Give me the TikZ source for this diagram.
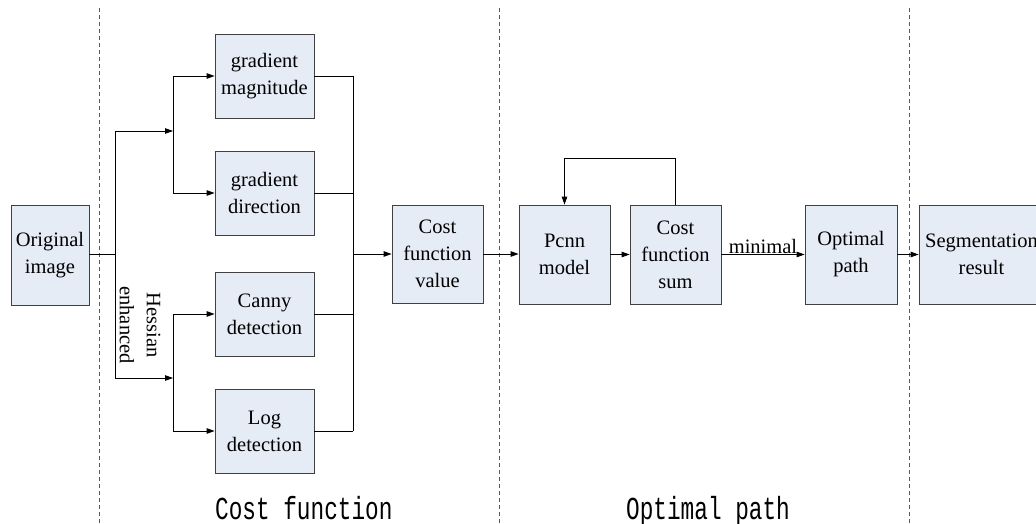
\documentclass[tikz,border=0pt]{standalone}
\usepackage{fontspec}
\setmainfont{Liberation Serif}
\newfontfamily\capfont[FakeStretch=0.71]{Liberation Mono}
\usetikzlibrary{arrows.meta}
\definecolor{boxfill}{RGB}{230,236,246}
\definecolor{boxline}{RGB}{64,64,64}
\begin{document}
\begin{tikzpicture}[x=1pt,y=-1pt,
  box/.style={draw=boxline, fill=boxfill, line width=0.8pt, inner sep=0pt,
    align=center, font=\fontsize{20.5}{27}\selectfont},
  conn/.style={draw=black, line width=0.8pt},
  arr/.style={conn, -{Triangle[length=8pt,width=5.5pt]}},
  sep/.style={draw=black!65, dash pattern=on 4pt off 3pt, line width=0.6pt},
  sectcap/.style={font=\capfont\fontsize{32}{36}\selectfont, inner sep=0pt, anchor=base west},
  txt/.style={font=\fontsize{20.5}{27}\selectfont, inner sep=1pt, align=center}]
\clip (0,0) rectangle (1036,524);

% section separators
\draw[sep] (99,8) -- (99,524);
\draw[sep] (499,8) -- (499,524);
\draw[sep] (909,8) -- (909,524);

% blocks
\node[box, minimum width=78pt, minimum height=100pt] (orig) at (50,255) {Original\\image};
\node[box, minimum width=99pt, minimum height=84pt] (gm) at (264.5,76) {gradient\\magnitude};
\node[box, minimum width=99pt, minimum height=84pt] (gd) at (264.5,193) {gradient\\direction};
\node[box, minimum width=99pt, minimum height=84pt] (canny) at (264.5,314) {Canny\\detection};
\node[box, minimum width=99pt, minimum height=84pt] (log) at (264.5,431) {Log\\detection};
\node[box, minimum width=91pt, minimum height=98pt] (cfv) at (437.5,254) {Cost\\function\\value};
\node[box, minimum width=91pt, minimum height=99pt] (pcnn) at (564.5,254.5) {Pcnn\\model};
\node[box, minimum width=91pt, minimum height=99pt] (cfs) at (675.5,254.5) {Cost\\function\\sum};
\node[box, minimum width=92pt, minimum height=99pt] (opt) at (851,254.5) {Optimal\\path};
\node[box, minimum width=125pt, minimum height=99pt] (seg) at (981.5,254.5) {Segmentation\\result};

% branch points
\coordinate (split) at (115,254);
\coordinate (upT) at (115,131);
\coordinate (loT) at (115,378);
\coordinate (upB) at (173,131);
\coordinate (loB) at (173,378);
\coordinate (merge) at (353,254);

% fan-out from the original image
\draw[conn] (orig.east |- split) -- (split);
\draw[conn] (upT) -- (loT);
\draw[arr] (upT) -- (upB);
\draw[arr] (loT) -- (loB);
\draw[conn] (upB |- gm.west) -- (upB |- gd.west);
\draw[conn] (loB |- canny.west) -- (loB |- log.west);
\draw[arr] (upB |- gm.west) -- (gm.west);
\draw[arr] (upB |- gd.west) -- (gd.west);
\draw[arr] (loB |- canny.west) -- (canny.west);
\draw[arr] (loB |- log.west) -- (log.west);
\node[txt, rotate=-90] (hess) at (140,325) {Hessian\\enhanced};

% fan-in to the cost function value
\draw[conn] (gm.east) -- (merge |- gm.east);
\draw[conn] (gd.east) -- (merge |- gd.east);
\draw[conn] (canny.east) -- (merge |- canny.east);
\draw[conn] (log.east) -- (merge |- log.east);
\draw[conn] (merge |- gm.east) -- (merge |- log.east);
\draw[arr] (merge) -- (cfv.west |- merge);

% optimal path search
\draw[arr] (cfv.east) -- (pcnn.west |- cfv.east);
\draw[arr] (pcnn.east) -- (cfs.west);
\draw[arr] (cfs.north) -- ++(0,-46) -| (pcnn.north);
\draw[arr] (cfs.east) -- node[txt, above, inner sep=0.5pt] (minl) {minimal} (opt.west);
\draw[arr] (opt.east) -- (seg.west);

% section captions
\node[sectcap] (c1) at (215,519) {Cost function};
\node[sectcap] (c2) at (626,519) {Optimal path};
\end{tikzpicture}
\end{document}
